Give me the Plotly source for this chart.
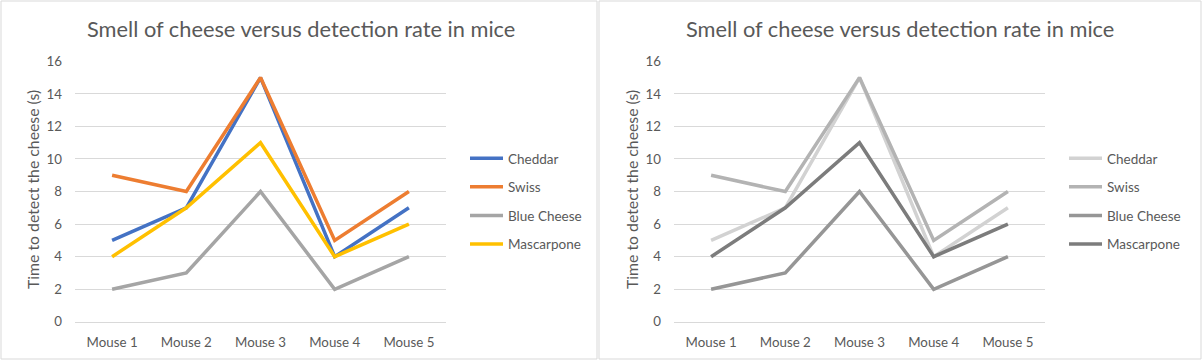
import plotly.graph_objects as go

categories = ["Mouse 1", "Mouse 2", "Mouse 3", "Mouse 4", "Mouse 5"]
series_names = ["Cheddar", "Swiss", "Blue Cheese", "Mascarpone"]
cheddar = [5, 7, 15, 4, 7]
swiss = [9, 8, 15, 5, 8]
blue_cheese = [2, 3, 8, 2, 4]
mascarpone = [4, 7, 11, 4, 6]
values = [cheddar, swiss, blue_cheese, mascarpone]
colors_left = ["#4472C4", "#ED7D31", "#A5A5A5", "#FFC000"]
colors_right = ["#D2D2D2", "#B3B3B3", "#969696", "#7C7C7C"]
title_text = "Smell of cheese versus detection rate in mice"
y_title = "Time to detect the cheese (s)"
y_ticks = [0, 2, 4, 6, 8, 10, 12, 14, 16]

W, H = 1202, 363
FONT = "Lato"
TXT = "#595959"
GRID = "#D9D9D9"

def px(x):
    return x / W

def py(y):
    return 1 - y / H

fig = go.Figure()

panels = [
    dict(xa="x", ya="y", leg="legend", colors=colors_left),
    dict(xa="x2", ya="y2", leg="legend2", colors=colors_right),
]

for p in panels:
    for name, vals, col in zip(series_names, values, p["colors"]):
        fig.add_trace(go.Scatter(
            x=categories, y=vals, name=name, mode="lines",
            line=dict(color=col, width=3.5),
            xaxis=p["xa"], yaxis=p["ya"], legend=p["leg"],
            legendgroup=p["leg"] + name,
        ))

axis_common = dict(
    showgrid=False, zeroline=False, showline=True, linecolor=GRID,
    tickfont=dict(family=FONT, size=13.3, color=TXT), ticks="",
    ticklabelstandoff=8, fixedrange=True, automargin=False,
)
yaxis_common = dict(
    range=[0, 16], tickvals=y_ticks, showgrid=True, gridcolor=GRID,
    gridwidth=1, zeroline=False, showline=False,
    tickfont=dict(family=FONT, size=13.3, color=TXT), ticks="",
    ticklabelstandoff=12, fixedrange=True, automargin=False,
)

y_dom = [py(321.8), py(61.3)]
layout = dict(
    width=W, height=H, margin=dict(l=0, r=0, t=0, b=0, autoexpand=False),
    paper_bgcolor="white", plot_bgcolor="white",
    showlegend=True,
    xaxis=dict(domain=[px(75), px(446)], range=[-0.5, 4.5], anchor="y", **axis_common),
    yaxis=dict(domain=y_dom, anchor="x", **yaxis_common),
    xaxis2=dict(domain=[px(674), px(1045)], range=[-0.5, 4.5], anchor="y2", **axis_common),
    yaxis2=dict(domain=y_dom, anchor="x2", **yaxis_common),
)

legend_common = dict(
    font=dict(family=FONT, size=13.5, color=TXT), bgcolor="rgba(0,0,0,0)",
    xanchor="left", yanchor="top", tracegroupgap=8, itemwidth=33,
)
layout["legend"] = dict(x=px(465), y=py(143), **legend_common)
layout["legend2"] = dict(x=px(1064), y=py(143), **legend_common)

fig.update_layout(**layout)

annotations = []
shapes = []
for off, x0, x1 in [(0, 1, 597), (599, 599, 1201)]:
    annotations.append(dict(
        text=title_text, x=px(off + 301), y=py(28), xref="paper", yref="paper",
        xanchor="center", yanchor="middle", showarrow=False,
        font=dict(family=FONT, size=21.8, color=TXT),
    ))
    annotations.append(dict(
        text=y_title, x=px(off + 33), y=py(190), xref="paper", yref="paper",
        xanchor="center", yanchor="middle", showarrow=False, textangle=-90,
        font=dict(family=FONT, size=15.8, color=TXT),
    ))
    shapes.append(dict(
        type="rect", xref="paper", yref="paper",
        x0=px(x0), x1=px(x1), y0=py(359), y1=py(1),
        line=dict(color=GRID, width=1), fillcolor="rgba(0,0,0,0)", layer="below",
    ))

fig.update_layout(annotations=annotations, shapes=shapes)
fig.write_html(
    "out.html",
    config={"responsive": False, "displayModeBar": False},
    post_script="document.body.style.margin='0';document.body.style.overflow='hidden';",
)
